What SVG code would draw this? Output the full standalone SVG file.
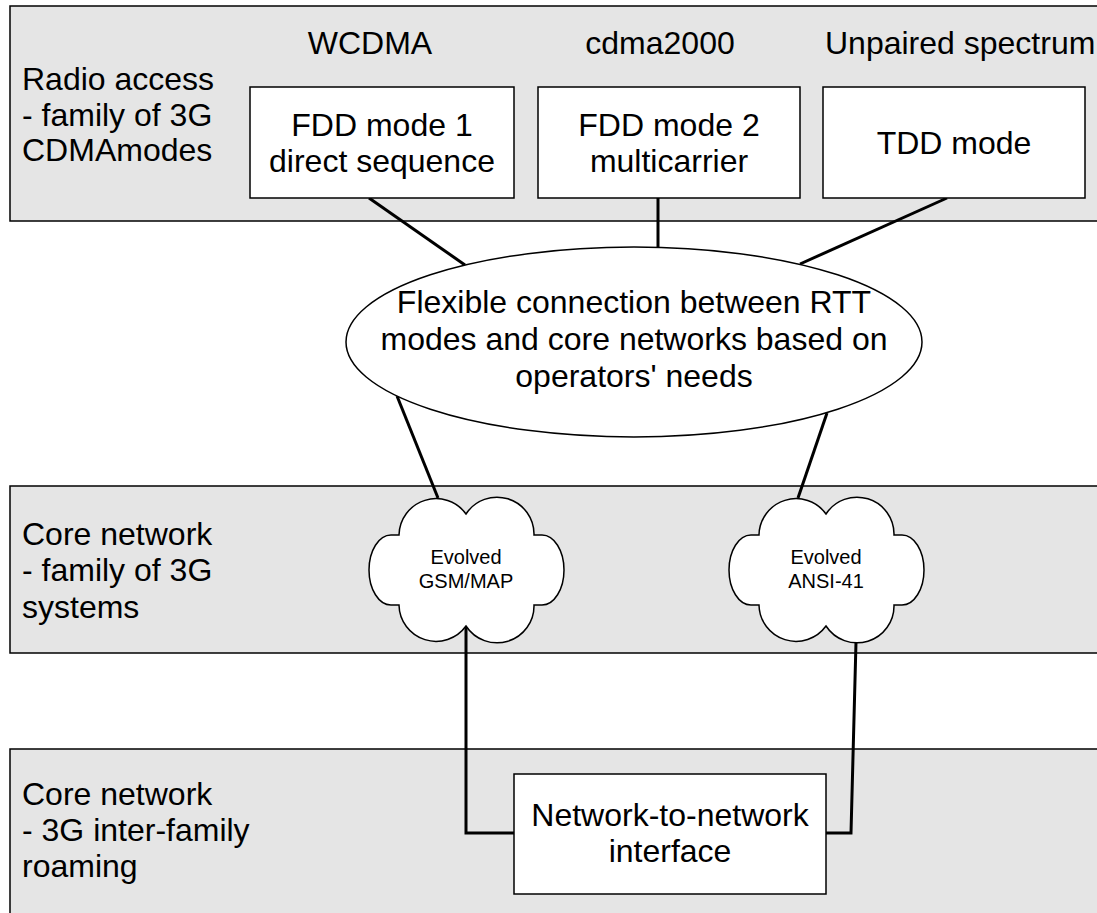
<svg xmlns="http://www.w3.org/2000/svg" width="1097" height="913" viewBox="0 0 1097 913">
<defs>
<style>
.band{fill:#e5e5e5;stroke:#000;stroke-width:1.5}
.box{fill:#fff;stroke:#000;stroke-width:1.5}
.t{font-family:"Liberation Sans",Arial,sans-serif;font-size:32px;fill:#000}
.c{text-anchor:middle}
.s{font-family:"Liberation Sans",Arial,sans-serif;font-size:20px;fill:#000;text-anchor:middle}
.conn{fill:none;stroke:#000;stroke-width:3}
</style>
<path id="cloud" d="M466,514 A37,37 0 0 1 534,535 L542,535 A22,35 0 0 1 542,605 L534,605 A37,37 0 0 1 466,626 A37,37 0 0 1 399,605 L391,605 A22,35 0 0 1 391,535 L399,535 A37,37 0 0 1 466,514 Z"/>
</defs>
<g id="band-radio">
<rect class="band" x="10" y="6" width="1100" height="215"/>
<text class="t" x="22" y="90">Radio access</text>
<text class="t" x="22" y="126">- family of 3G</text>
<text class="t" x="22" y="161">CDMAmodes</text>
</g>
<g id="band-core">
<rect class="band" x="10" y="486" width="1100" height="167"/>
<text class="t" x="22" y="545">Core network</text>
<text class="t" x="22" y="581">- family of 3G</text>
<text class="t" x="22" y="618">systems</text>
</g>
<g id="band-roaming">
<rect class="band" x="10" y="749" width="1100" height="180"/>
<text class="t" x="22" y="805">Core network</text>
<text class="t" x="22" y="841">- 3G inter-family</text>
<text class="t" x="22" y="877">roaming</text>
</g>
<g id="label-wcdma"><text class="t c" x="370" y="54">WCDMA</text></g>
<g id="label-cdma2000"><text class="t c" x="660" y="54">cdma2000</text></g>
<g id="label-unpaired"><text class="t" x="825" y="54">Unpaired spectrum</text></g>
<g id="connectors">
<line class="conn" x1="369" y1="198" x2="465" y2="265"/>
<line class="conn" x1="658" y1="198" x2="658" y2="247"/>
<line class="conn" x1="947" y1="198" x2="800" y2="264"/>
<line class="conn" x1="397" y1="396" x2="438" y2="498"/>
<line class="conn" x1="827" y1="413" x2="798" y2="498"/>
<polyline class="conn" points="466,626 466,833 514,833"/>
<polyline class="conn" points="856,642 851,833 826,833"/>
</g>
<g id="fdd1">
<rect class="box" x="250" y="87" width="264" height="111"/>
<text class="t c" x="382" y="136">FDD mode 1</text>
<text class="t c" x="382" y="172">direct sequence</text>
</g>
<g id="fdd2">
<rect class="box" x="538" y="87" width="262" height="111"/>
<text class="t c" x="669" y="136">FDD mode 2</text>
<text class="t c" x="669" y="172">multicarrier</text>
</g>
<g id="tdd">
<rect class="box" x="823" y="87" width="262" height="111"/>
<text class="t c" x="954" y="154">TDD mode</text>
</g>
<g id="flex">
<ellipse cx="634" cy="342" rx="288" ry="95" fill="#fff" stroke="#000" stroke-width="1.5"/>
<text class="t c" x="634" y="313">Flexible connection between RTT</text>
<text class="t c" x="634" y="350">modes and core networks based on</text>
<text class="t c" x="634" y="387">operators' needs</text>
</g>
<g id="gsm">
<use href="#cloud" fill="#fff" stroke="#000" stroke-width="1.5"/>
<text class="s" x="466" y="564">Evolved</text>
<text class="s" x="466" y="588">GSM/MAP</text>
</g>
<g id="ansi">
<use href="#cloud" transform="translate(360,0)" fill="#fff" stroke="#000" stroke-width="1.5"/>
<text class="s" x="826" y="564">Evolved</text>
<text class="s" x="826" y="588">ANSI-41</text>
</g>
<g id="nni">
<rect class="box" x="514" y="774" width="312" height="120"/>
<text class="t c" x="670" y="826">Network-to-network</text>
<text class="t c" x="670" y="862">interface</text>
</g>
</svg>
